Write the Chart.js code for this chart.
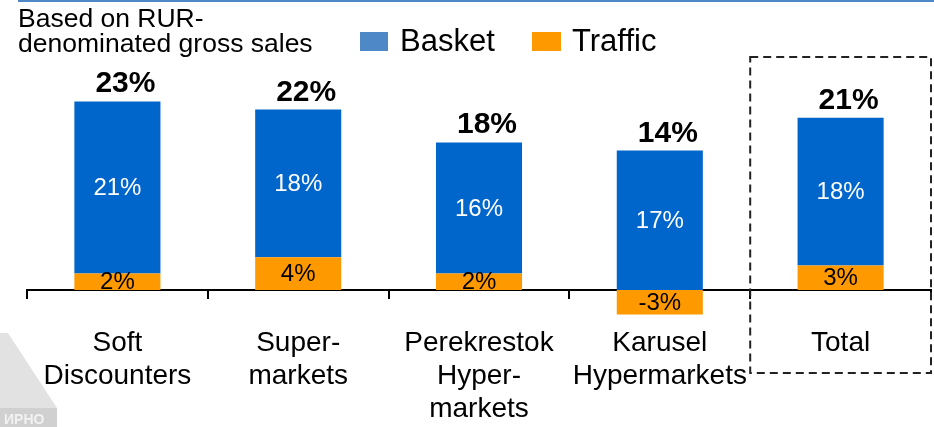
<!DOCTYPE html>
<html><head><meta charset="utf-8">
<script src="https://cdn.jsdelivr.net/npm/chart.js@4.4.1/dist/chart.umd.min.js"></script>
<style>html,body{margin:0;padding:0;background:#fff}#wrap{width:934px;height:427px;position:relative}</style>
</head><body><div id="wrap"><canvas id="c" width="934" height="427"></canvas></div>
<script>
const categories = [['Soft','Discounters'],['Super-','markets'],['Perekrestok','Hyper-','markets'],['Karusel','Hypermarkets'],['Total']];
const basket = [21, 18, 16, 17, 18];
const traffic = [2, 4, 2, -3, 3];
const totals = [23, 22, 18, 14, 21];
const seriesNames = ['Basket', 'Traffic'];
const titleLines = ['Based on RUR-', 'denominated gross sales'];
const watermarkText = 'ИРНО';

const FONT = 'Arial, "Liberation Sans", sans-serif';
const BAR_BLUE = '#0066CC', BAR_ORANGE = '#FF9900';
const LEG_BLUE = '#4F88C6', LEG_ORANGE = '#FF9900';

const watermark = {
  id: 'watermark',
  beforeDraw(chart) {
    const ctx = chart.ctx;
    ctx.save();
    ctx.fillStyle = '#e2e2e2';
    ctx.beginPath();
    ctx.moveTo(0, 333); ctx.lineTo(8, 333); ctx.lineTo(57, 408); ctx.lineTo(57, 427); ctx.lineTo(0, 427);
    ctx.closePath(); ctx.fill();
    ctx.fillStyle = '#d0d0d0';
    ctx.fillRect(0, 408, 57, 19);
    ctx.fillStyle = '#f2f2f2'; ctx.font = 'bold 14px ' + FONT;
    ctx.textAlign = 'left'; ctx.textBaseline = 'alphabetic';
    ctx.fillText(watermarkText, 4, 424);
    ctx.restore();
  }
};

const overlay = {
  id: 'overlay',
  afterDraw(chart) {
    const ctx = chart.ctx, xs = chart.scales.x, ca = chart.chartArea;
    ctx.save();
    // top rule
    ctx.strokeStyle = LEG_BLUE; ctx.lineWidth = 2;
    ctx.beginPath(); ctx.moveTo(18, 1); ctx.lineTo(934, 1); ctx.stroke();
    // title
    ctx.fillStyle = '#000'; ctx.font = '26.5px ' + FONT;
    ctx.textAlign = 'left'; ctx.textBaseline = 'alphabetic';
    ctx.fillText(titleLines[0], 18, 27);
    ctx.fillText(titleLines[1], 18, 52);
    // legend
    ctx.font = '31px ' + FONT;
    ctx.fillStyle = LEG_BLUE; ctx.fillRect(360, 32, 28, 19);
    ctx.fillStyle = '#000'; ctx.fillText(seriesNames[0], 400, 51);
    ctx.fillStyle = LEG_ORANGE; ctx.fillRect(532, 32, 29, 19);
    ctx.fillStyle = '#000'; ctx.fillText(seriesNames[1], 572, 51);
    // segment labels
    const metaT = chart.getDatasetMeta(0), metaB = chart.getDatasetMeta(1);
    ctx.textAlign = 'center'; ctx.textBaseline = 'middle';
    ctx.font = '24px ' + FONT;
    metaB.data.forEach((el, i) => {
      ctx.fillStyle = '#fff';
      ctx.fillText(basket[i] + '%', el.x, (el.y + el.base) / 2 + 1);
    });
    metaT.data.forEach((el, i) => {
      ctx.fillStyle = '#000';
      ctx.fillText(traffic[i] + '%', el.x, (el.y + el.base) / 2 + 1);
    });
    // totals
    ctx.font = 'bold 30px ' + FONT; ctx.textBaseline = 'alphabetic';
    metaB.data.forEach((el, i) => {
      ctx.fillStyle = '#000';
      ctx.fillText(totals[i] + '%', el.x + 8, el.y - 9);
    });
    // dashed box around Total
    const left = xs.getPixelForValue(3.5);
    ctx.strokeStyle = '#222'; ctx.lineWidth = 2; ctx.setLineDash([8, 5]);
    ctx.strokeRect(left, 57, ca.right - left, 316);
    ctx.restore();
  }
};

new Chart(document.getElementById('c'), {
  type: 'bar',
  data: {
    labels: categories,
    datasets: [
      { label: seriesNames[1], data: traffic, backgroundColor: BAR_ORANGE, stack: 's' },
      { label: seriesNames[0], data: basket, backgroundColor: BAR_BLUE, stack: 's' }
    ]
  },
  options: {
    responsive: false,
    devicePixelRatio: 1,
    animation: false,
    layout: { padding: { left: 27, right: 3, top: 44, bottom: 96 } },
    plugins: { legend: { display: false }, tooltip: { enabled: false } },
    datasets: { bar: { categoryPercentage: 1, barPercentage: 0.476 } },
    scales: {
      x: {
        stacked: true,
        position: { y: 0 },
        grid: { offset: true, drawOnChartArea: false, drawTicks: true, tickLength: 8, color: '#000', lineWidth: 2 },
        border: { display: true, color: '#000', width: 2 },
        ticks: { autoSkip: false, maxRotation: 0, padding: 29, color: '#000', font: { family: FONT, size: 28, lineHeight: 1.18 } }
      },
      y: { stacked: true, display: false, min: -5, max: 30 }
    }
  },
  plugins: [watermark, overlay]
});
</script></body></html>
